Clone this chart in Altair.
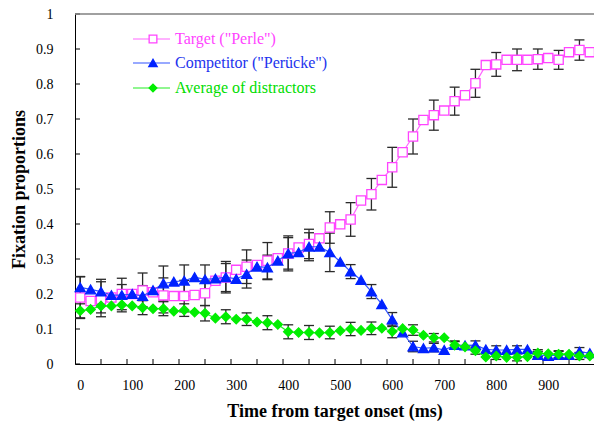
import altair as alt
import pandas as pd

# ---- data ----
times = [0, 20, 40, 60, 80, 100, 120, 140, 160, 180,
         200, 220, 240, 260, 280, 300, 320, 340, 360, 380,
         400, 420, 440, 460, 480, 500, 520, 540, 560, 580,
         600, 620, 640, 660, 680, 700, 720, 740, 760, 780,
         800, 820, 840, 860, 880, 900, 920, 940, 960, 980]

target = [0.190, 0.180, 0.185, 0.190, 0.200, 0.200, 0.210, 0.205, 0.196, 0.194,
          0.194, 0.197, 0.202, 0.238, 0.247, 0.269, 0.278, 0.283, 0.295, 0.302,
          0.316, 0.333, 0.343, 0.359, 0.390, 0.399, 0.413, 0.467, 0.485, 0.526,
          0.562, 0.605, 0.650, 0.697, 0.711, 0.724, 0.751, 0.768, 0.802, 0.854,
          0.856, 0.869, 0.869, 0.869, 0.871, 0.874, 0.869, 0.891, 0.897, 0.891]

competitor = [0.219, 0.213, 0.207, 0.197, 0.197, 0.200, 0.194, 0.211, 0.230, 0.235,
              0.238, 0.248, 0.242, 0.244, 0.248, 0.243, 0.257, 0.278, 0.276, 0.295,
              0.316, 0.319, 0.335, 0.335, 0.319, 0.292, 0.264, 0.240, 0.207, 0.171,
              0.127, 0.090, 0.050, 0.045, 0.047, 0.040, 0.054, 0.053, 0.054, 0.042,
              0.040, 0.040, 0.042, 0.042, 0.026, 0.023, 0.026, 0.026, 0.035, 0.031]

distractors = [0.152, 0.156, 0.166, 0.166, 0.169, 0.166, 0.161, 0.158, 0.158, 0.151,
               0.154, 0.148, 0.145, 0.131, 0.135, 0.128, 0.128, 0.120, 0.118, 0.113,
               0.092, 0.090, 0.090, 0.089, 0.090, 0.095, 0.100, 0.096, 0.102, 0.102,
               0.093, 0.101, 0.097, 0.082, 0.075, 0.075, 0.054, 0.049, 0.038, 0.020,
               0.023, 0.019, 0.019, 0.021, 0.031, 0.029, 0.028, 0.028, 0.023, 0.023]

# error bars are drawn every 40 ms
err_times = [0, 40, 80, 120, 160, 200, 240, 280, 320, 360, 400, 440, 480,
             520, 560, 600, 640, 680, 720, 760, 800, 840, 880, 920, 960]
target_err = [0.060, 0.050, 0.045, 0.050, 0.050, 0.045, 0.035, 0.040, 0.048, 0.052,
              0.050, 0.042, 0.045, 0.048, 0.045, 0.057, 0.050, 0.043, 0.040, 0.040,
              0.034, 0.031, 0.029, 0.027, 0.029]
competitor_err = [0.030, 0.035, 0.030, 0.030, 0.050, 0.045, 0.041, 0.045, 0.040, 0.035,
                  0.045, 0.040, 0.055, 0.020, 0.020, 0.020, 0.015, 0.012, 0.010, 0.012,
                  0.012, 0.010, 0.010, 0.010, 0.012]
distractors_err = [0.020, 0.020, 0.020, 0.020, 0.020, 0.018, 0.022, 0.020, 0.018, 0.020,
                   0.020, 0.020, 0.018, 0.019, 0.018, 0.018, 0.015, 0.012, 0.012, 0.010,
                   0.010, 0.010, 0.010, 0.010, 0.010]

x_labels = [0, 100, 200, 300, 400, 500, 600, 700, 800, 900]
x_tick_marks = [40, 90, 140, 190, 240, 290, 340, 390, 440, 490, 540, 590,
                640, 690, 740, 790, 840, 890, 940]
y_ticks = [0, 0.1, 0.2, 0.3, 0.4, 0.5, 0.6, 0.7, 0.8, 0.9, 1.0]

series_names = ['Target ("Perle")', 'Competitor ("Perücke")', 'Average of distractors']

FONT = "Liberation Serif"
W, H = 519, 350

xs = alt.Scale(domain=[-10, 988], nice=False, zero=False)
ys = alt.Scale(domain=[0, 1], nice=False, zero=False)

xaxis = alt.Axis(values=x_labels, ticks=False, grid=False, domainColor="black",
                 domainWidth=1, labelFont=FONT, labelFontSize=14, labelColor="black",
                 labelPadding=14, labelFlush=False, format="d",
                 title="Time from target onset (ms)", titleFont=FONT,
                 titleFontSize=18, titleFontWeight="bold", titleColor="black",
                 titlePadding=10)
yaxis = alt.Axis(values=y_ticks, ticks=False, grid=False, domainColor="black",
                 domainWidth=1, labelFont=FONT, labelFontSize=14, labelColor="black",
                 labelPadding=22, format="~g", labelFlush=False,
                 title="Fixation proportions", titleFont=FONT, titleFontSize=18,
                 titleFontWeight="bold", titleColor="black", titlePadding=7)

X = lambda f: alt.X(f, type="quantitative", scale=xs, axis=xaxis)
Y = lambda f: alt.Y(f, type="quantitative", scale=ys, axis=yaxis)

styles = [
    dict(name=series_names[0], vals=target, err=target_err, line="#FF66FF",
         shape="square", fill="white", stroke="#FF44FF", size=85, text="#FF44FF"),
    dict(name=series_names[1], vals=competitor, err=competitor_err, line="#3355FF",
         shape="triangle-up", fill="#0022FF", stroke="#0022FF", size=100, text="#2233EE"),
    dict(name=series_names[2], vals=distractors, err=distractors_err, line="#22EE22",
         shape="diamond", fill="#00EE00", stroke="#00EE00", size=85, text="#00DD00"),
]

layers = []

# inward tick marks and top frame
ytick_df = pd.DataFrame({"v": y_ticks})
layers.append(alt.Chart(ytick_df).mark_rule(color="black", strokeWidth=1).encode(
    y=Y("v"), x=alt.value(0), x2=alt.value(5)))
xtick_df = pd.DataFrame({"t": x_tick_marks})
layers.append(alt.Chart(xtick_df).mark_rule(color="black", strokeWidth=1).encode(
    x=X("t"), y=alt.value(H - 5), y2=alt.value(H)))
layers.append(alt.Chart(pd.DataFrame({"k": [0]})).mark_rule(color="#808080", strokeWidth=1.5).encode(
    x=alt.value(0), x2=alt.value(W), y=alt.value(0)))

# error bars
for s in styles:
    idx = [times.index(t) for t in err_times]
    edf = pd.DataFrame({
        "t": err_times,
        "lo": [s["vals"][i] - e for i, e in zip(idx, s["err"])],
        "hi": [s["vals"][i] + e for i, e in zip(idx, s["err"])],
    })
    base = alt.Chart(edf)
    layers.append(base.mark_rule(color="#2a2a2a", strokeWidth=1.3).encode(
        x=X("t"), y=Y("lo"), y2="hi"))
    layers.append(base.mark_tick(color="#2a2a2a", orient="horizontal", size=10,
                                 thickness=1.3, opacity=1).encode(x=X("t"), y=Y("lo")))
    layers.append(base.mark_tick(color="#2a2a2a", orient="horizontal", size=10,
                                 thickness=1.3, opacity=1).encode(x=X("t"), y=Y("hi")))

# lines and markers
for s in styles:
    df = pd.DataFrame({"t": times, "v": s["vals"]})
    base = alt.Chart(df)
    layers.append(base.mark_line(color=s["line"], strokeWidth=1.2).encode(x=X("t"), y=Y("v")))
    layers.append(base.mark_point(shape=s["shape"], filled=True, fill=s["fill"],
                                  stroke=s["stroke"], strokeWidth=1.3, size=s["size"],
                                  opacity=1).encode(x=X("t"), y=Y("v")))

# legend (inside the plot, top left)
ly = [25, 49, 74]
for s, yy in zip(styles, ly):
    one = alt.Chart(pd.DataFrame({"label": [s["name"]]}))
    layers.append(one.mark_rule(color=s["line"], strokeWidth=1.2).encode(
        x=alt.value(58), x2=alt.value(95), y=alt.value(yy)))
    layers.append(one.mark_point(shape=s["shape"], filled=True, fill=s["fill"],
                                 stroke=s["stroke"], strokeWidth=1.3,
                                 size=s["size"] * 0.7, opacity=1).encode(
        x=alt.value(78), y=alt.value(yy)))
    layers.append(one.mark_text(align="left", baseline="middle", font=FONT,
                                fontSize=16, color=s["text"]).encode(
        x=alt.value(100), y=alt.value(yy), text="label:N"))

chart = alt.layer(*layers).properties(
    width=W, height=H,
    autosize=alt.AutoSizeParams(type="none"),
    padding={"left": 75, "top": 14, "right": 0, "bottom": 66},
    background="white",
).configure_view(stroke=None)

chart.save("out.html", embed_options={"renderer": "svg", "actions": False})
